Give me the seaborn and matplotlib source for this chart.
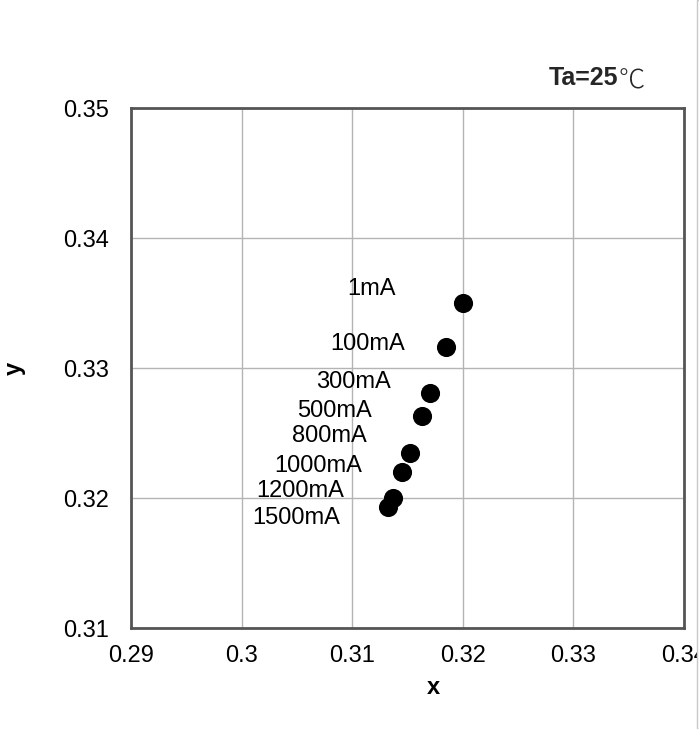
"""
Chromaticity shift (x, y) vs forward current at Ta=25C.
Output: out.png
"""

import matplotlib
matplotlib.use("Agg")

import pandas as pd
import seaborn as sns
import matplotlib.pyplot as plt
from matplotlib.patches import Rectangle

# Data
currents = ["1mA", "100mA", "300mA", "500mA", "800mA", "1000mA", "1200mA", "1500mA"]
cie_x = [0.3200, 0.3185, 0.3170, 0.3163, 0.3152, 0.3145, 0.3137, 0.3132]
cie_y = [0.3350, 0.3316, 0.3281, 0.3263, 0.3235, 0.3220, 0.3200, 0.3193]

x_ticks = [0.29, 0.30, 0.31, 0.32, 0.33, 0.34]
x_tick_labels = ["0.29", "0.3", "0.31", "0.32", "0.33", "0.34"]
y_ticks = [0.31, 0.32, 0.33, 0.34, 0.35]
y_tick_labels = ["0.31", "0.32", "0.33", "0.34", "0.35"]

# label offsets (points) relative to each marker
label_offsets = [(-48, 10), (-30, 2), (-28, 8), (-36, 4), (-31, 12), (-29, 4), (-35, 5), (-34, -8)]


def main() -> None:
    sns.set_style("white")
    plt.rcParams["font.family"] = ["Liberation Sans", "Noto Sans CJK JP", "DejaVu Sans"]

    df = pd.DataFrame({"x": cie_x, "y": cie_y, "current": currents})

    fig = plt.figure(figsize=(6.99, 7.29), dpi=100)
    ax = fig.add_axes([0.1874, 0.1385, 0.7911, 0.7133])

    sns.scatterplot(data=df, x="x", y="y", ax=ax, s=190, color="black",
                    edgecolor="black", linewidth=0, zorder=3, legend=False)

    for lbl, px, py, off in zip(currents, cie_x, cie_y, label_offsets):
        ax.annotate(lbl, (px, py), xytext=off, textcoords="offset points",
                    ha="right", va="center", fontsize=17, color="black")

    ax.set_xlim(0.29, 0.34)
    ax.set_ylim(0.31, 0.35)
    ax.set_xticks(x_ticks)
    ax.set_xticklabels(x_tick_labels)
    ax.set_yticks(y_ticks)
    ax.set_yticklabels(y_tick_labels)
    ax.tick_params(axis="both", length=0, labelsize=17, colors="black")
    ax.tick_params(axis="x", pad=12)
    ax.tick_params(axis="y", pad=16)
    ax.grid(True, color="#b4b4b4", linewidth=1.0)
    ax.set_axisbelow(True)
    for sp in ax.spines.values():
        sp.set_color("#555555")
        sp.set_linewidth(2.0)

    ax.set_xlabel("x", fontsize=17, fontweight="bold", color="black")
    ax.set_ylabel("y", fontsize=17, fontweight="bold", color="black")
    ax.xaxis.set_label_coords(0.546, -0.093)
    ax.yaxis.set_label_coords(-0.19, 0.5)

    # header: Ta=25 bold, degree sign normal
    fig.text(618 / 699, 1 - 78 / 729, "Ta=25", ha="right", va="center",
             fontsize=18, fontweight="bold")
    fig.text(618 / 699, 1 - 80 / 729, "℃", ha="left", va="center",
             fontsize=19, family=["Noto Sans CJK JP", "DejaVu Sans"], fontweight="light")

    # the reference is cut off on the right by a thin grey border
    fig.patches.append(Rectangle((697 / 699, 0), 0.01, 1, transform=fig.transFigure,
                                 facecolor="white", edgecolor="#c8c8c8", linewidth=1,
                                 zorder=10))

    fig.savefig("out.png", dpi=100)
    plt.close(fig)


if __name__ == "__main__":
    main()
